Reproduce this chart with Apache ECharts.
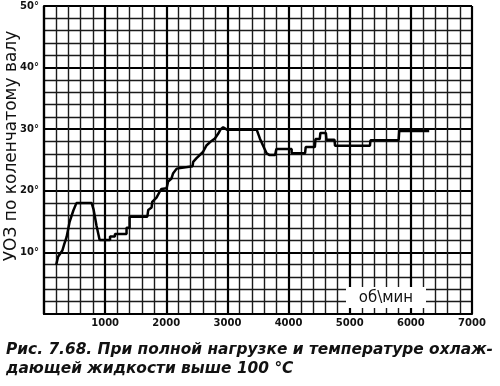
<!DOCTYPE html>
<html>
<head>
<meta charset="utf-8">
<script src="https://cdn.jsdelivr.net/npm/echarts@6/dist/echarts.min.js"></script>
<style>
html,body{margin:0;padding:0;background:#fff;}
#chart{width:500px;height:386px;}
</style>
</head>
<body>
<div id="chart"></div>
<script>
// Engine speed, rpm
var rpm = [200, 230, 300, 330, 370, 420, 480, 530, 780, 810, 860, 910,
  1080, 1080, 1160, 1160, 1350, 1350, 1400, 1400, 1690, 1705, 1760, 1770,
  1840, 1895, 1920, 2005, 2030, 2085, 2110, 2170, 2195, 2430, 2440, 2495,
  2600, 2660, 2740, 2795, 2850, 2890, 2930, 3000, 3480, 3530, 3580, 3640,
  3690, 3780, 3800, 4050, 4050, 4270, 4280, 4430, 4440, 4510, 4520, 4610,
  4620, 4750, 4760, 5330, 5340, 5800, 5810, 6300];
// Ignition advance, degrees
var advance = [8, 9.3, 10.3, 11.3, 12.5, 15, 16.8, 18, 18, 17, 14.3, 12,
  12, 12.6, 12.6, 13, 13, 14, 14, 15.8, 15.8, 16.9, 17.3, 18.2,
  18.9, 19.9, 20.3, 20.4, 21.5, 22, 22.8, 23.6, 23.9, 24, 24.7, 25.3,
  26.3, 27.4, 28.1, 28.5, 29.3, 30, 30.3, 29.9, 29.9, 28.5, 27.4, 26.1,
  25.8, 25.8, 26.8, 26.8, 26.1, 26.1, 27.1, 27.1, 28.4, 28.4, 29.4, 29.4,
  28.3, 28.3, 27.3, 27.3, 28.2, 28.2, 29.7, 29.7];
var xTicks = [1000, 2000, 3000, 4000, 5000, 6000, 7000];
var yTicks = [10, 20, 30, 40, 50];
var yName = 'УОЗ по коленчатому валу';
var unitLabel = 'об\\мин';
var caption1 = 'Рис. 7.68. При полной нагрузке и температуре охлаж-';
var caption2 = 'дающей жидкости выше 100 °C';

var points = rpm.map(function (r, i) { return [r, advance[i]]; });

var chart = echarts.init(document.getElementById('chart'), null, {renderer: 'canvas'});
var tickFont = {fontFamily: 'DejaVu Sans', fontWeight: 'bold', fontSize: 10, color: '#111'};
chart.setOption({
  backgroundColor: '#fff',
  animation: false,
  grid: {left: 44, top: 6, width: 428, height: 308},
  xAxis: {
    type: 'value', min: 0, max: 7000, interval: 1000,
    axisLine: {show: true, lineStyle: {color: '#000', width: 2.2}},
    axisTick: {show: false},
    axisLabel: Object.assign({margin: 4, formatter: function (v) { return xTicks.indexOf(v) >= 0 ? String(v) : ''; }}, tickFont),
    splitLine: {show: true, lineStyle: {color: '#000', width: 2.2}},
    minorTick: {show: false, splitNumber: 5},
    minorSplitLine: {show: true, lineStyle: {color: '#1a1a1a', width: 1.4}}
  },
  yAxis: {
    type: 'value', min: 0, max: 50, interval: 10,
    axisLine: {show: true, lineStyle: {color: '#000', width: 2.2}},
    axisTick: {show: false},
    axisLabel: Object.assign({margin: 5, formatter: function (v) { return yTicks.indexOf(v) >= 0 ? v + '°' : ''; }}, tickFont),
    splitLine: {show: true, lineStyle: {color: '#000', width: 2.2}},
    minorTick: {show: false, splitNumber: 5},
    minorSplitLine: {show: true, lineStyle: {color: '#1a1a1a', width: 1.4}}
  },
  series: [{
    type: 'line', data: points, symbol: 'none',
    lineStyle: {color: '#000', width: 2.5}, z: 5
  }],
  graphic: [
    {type: 'text', x: 12, y: 146, rotation: Math.PI / 2,
     style: {text: yName, fill: '#111', font: '17px "DejaVu Sans"', align: 'center', verticalAlign: 'middle'}},
    {type: 'rect', shape: {x: 346, y: 287, width: 80, height: 21}, style: {fill: '#fff'}, z: 10},
    {type: 'text', x: 386, y: 298, z: 11,
     style: {text: unitLabel, fill: '#111', font: '15px "DejaVu Sans"', align: 'center', verticalAlign: 'middle'}},
    {type: 'text', x: 6, y: 350,
     style: {text: caption1, fill: '#111', font: 'italic bold 15.4px "DejaVu Sans"', align: 'left', verticalAlign: 'middle'}},
    {type: 'text', x: 6, y: 369,
     style: {text: caption2, fill: '#111', font: 'italic bold 15.4px "DejaVu Sans"', align: 'left', verticalAlign: 'middle'}}
  ]
});
</script>
</body>
</html>
